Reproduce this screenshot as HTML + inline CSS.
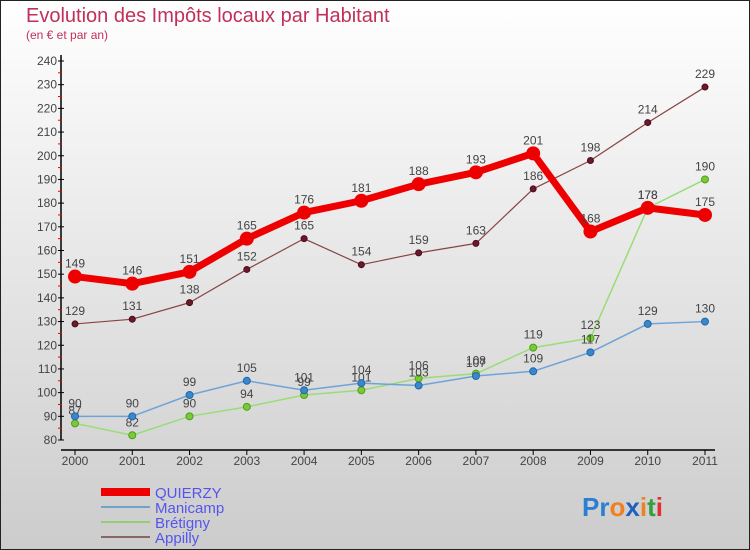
<!DOCTYPE html>
<html><head><meta charset="utf-8"><style>
html,body{margin:0;padding:0;}
body{width:750px;height:550px;overflow:hidden;font-family:"Liberation Sans",sans-serif;}
svg{display:block}
</style></head><body>
<svg id="chart" width="750" height="550" xmlns="http://www.w3.org/2000/svg">
<defs><linearGradient id="bg" x1="0" y1="0" x2="0" y2="1"><stop offset="0" stop-color="#ffffff"/><stop offset="1" stop-color="#cccccc"/></linearGradient></defs>
<rect x="0.5" y="0.5" width="749" height="549" fill="url(#bg)" stroke="#222" stroke-width="1"/>
<text x="26" y="22" font-size="20" fill="#c0305a">Evolution des Impôts locaux par Habitant</text>
<text x="26" y="39" font-size="12" fill="#c0305a">(en € et par an)</text>
<g id="axes"></g><g id="series"></g>
<g>
<line x1="101" y1="492" x2="150" y2="492" stroke="#ee0000" stroke-width="8"/>
<text x="155" y="498" font-size="15" fill="#5555ee">QUIERZY</text>
<line x1="101" y1="507" x2="150" y2="507" stroke="#6fa3c8" stroke-width="2"/>
<text x="155" y="513" font-size="15" fill="#5555ee">Manicamp</text>
<line x1="101" y1="522" x2="150" y2="522" stroke="#99cc77" stroke-width="2"/>
<text x="155" y="528" font-size="15" fill="#5555ee">Brétigny</text>
<line x1="101" y1="537" x2="150" y2="537" stroke="#886666" stroke-width="2"/>
<text x="155" y="543" font-size="15" fill="#5555ee">Appilly</text>
</g>
<text x="582" y="516" font-size="26" font-weight="bold"><tspan fill="#2a7fd4">Pr</tspan><tspan fill="#f08020">o</tspan><tspan fill="#2060c0">x</tspan><tspan fill="#f08020">i</tspan><tspan fill="#30a040">t</tspan><tspan fill="#e03030">i</tspan></text>
</svg>
<script>
const years=["2000","2001","2002","2003","2004","2005","2006","2007","2008","2009","2010","2011"];
const yTicks=[80,90,100,110,120,130,140,150,160,170,180,190,200,210,220,230,240];
const quierzy=[149,146,151,165,176,181,188,193,201,168,178,175];
const manicamp=[90,90,99,105,101,104,103,107,109,117,129,130];
const bretigny=[87,82,90,94,99,101,106,108,119,123,178,190];
const appilly=[129,131,138,152,165,154,159,163,186,198,214,229];
const NS="http://www.w3.org/2000/svg";
function X(i){return 75+i*(630/11);}
function Y(v){return 440-(v-80)*(379/160);}
function mk(tag,attrs,parent,text){const e=document.createElementNS(NS,tag);for(const k in attrs)e.setAttribute(k,attrs[k]);if(text!==undefined)e.textContent=text;parent.appendChild(e);return e;}
const ax=document.getElementById('axes');
let yl=mk('line',{x1:61,y1:55,x2:61,y2:440,stroke:'#000','stroke-width':1.5},ax);


let xl=mk('line',{x1:61,y1:450,x2:715,y2:450,stroke:'#000','stroke-width':1.5},ax);


yTicks.forEach(v=>{
 mk('line',{x1:58,y1:Y(v),x2:64,y2:Y(v),stroke:'#000'},ax);
 if(v<240) mk('line',{x1:58,y1:Y(v+5),x2:62,y2:Y(v+5),stroke:'#e00'},ax);
 const t=mk('text',{x:57,y:Y(v)+4,'text-anchor':'end','font-size':12,fill:'#444'},ax,String(v));
 
 
});
years.forEach((y,i)=>{
 mk('line',{x1:X(i),y1:450,x2:X(i),y2:455,stroke:'#000'},ax);
 const t=mk('text',{x:X(i),y:465,'text-anchor':'middle','font-size':12,fill:'#444'},ax,y);
 
 
});
const sg=document.getElementById('series');
function series(name,vals,color,w,r,dot,dotStroke){
 const g=mk('g',{},sg);
 
 
 const p=mk('polyline',{points:vals.map((v,i)=>X(i)+','+Y(v)).join(' '),fill:'none',stroke:color,'stroke-width':w,'stroke-linejoin':'round'},g);
 
 
 vals.forEach((v,i)=>{
  const c=mk('circle',{cx:X(i),cy:Y(v),r:r,fill:dot,stroke:dotStroke,'stroke-width':1},g);
  
  
  const t=mk('text',{x:X(i),y:Y(v)-9,'text-anchor':'middle','font-size':12,fill:'#444'},g,String(v));
  
  
 });
}
series('appilly',appilly,'#884444',1.2,3,'#6a1a2a','#4a0a1a');
series('bretigny',bretigny,'#99dd77',1.5,3.5,'#77cc33','#559922');
series('manicamp',manicamp,'#6fa3d8',1.5,3.5,'#3a88cc','#2266aa');
series('quierzy',quierzy,'#ee0000',7,6.5,'#ee0000','#ee0000');
</script>
</body></html>
